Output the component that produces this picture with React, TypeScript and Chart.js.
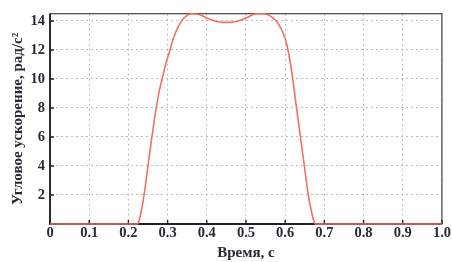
import React, { useEffect, useRef } from "react";
import { Chart, registerables } from "chart.js";

Chart.register(...registerables);

const timeValues = [0, 0.1, 0.2, 0.222, 0.228, 0.233, 0.24, 0.25, 0.26, 0.271, 0.279, 0.287, 0.295, 0.304, 0.316, 0.331, 0.342, 0.352, 0.362, 0.372, 0.385, 0.4, 0.42, 0.44, 0.46, 0.48, 0.5, 0.515, 0.528, 0.54, 0.55, 0.56, 0.57, 0.577, 0.585, 0.594, 0.602, 0.61, 0.619, 0.629, 0.639, 0.649, 0.659, 0.666, 0.672, 0.677, 0.7, 0.8, 0.9, 1.0];
const accelValues = [0, 0, 0, 0, 0.3, 0.9, 2, 4, 6, 8, 9.2, 10.1, 11.0, 11.8, 12.9, 13.8, 14.2, 14.42, 14.5, 14.48, 14.4, 14.2, 14.0, 13.9, 13.9, 14.0, 14.2, 14.4, 14.5, 14.5, 14.48, 14.38, 14.18, 14.0, 13.7, 13.2, 12.6, 11.6, 10.1, 8, 6, 4, 2, 1.0, 0.3, 0, 0, 0, 0, 0];
const yTickValues = [0, 2, 4, 6, 8, 10, 12, 14];
const xTitle = "Время, с";
const yTitle = "Угловое ускорение, рад/с²";

const frame = {
  id: "frame",
  beforeDatasetsDraw(chart: any) {
    const { ctx, chartArea } = chart;
    const { left, right, top, bottom } = chartArea;
    ctx.save();
    ctx.strokeStyle = "#444";
    ctx.lineWidth = 1.2;
    ctx.strokeRect(left, top, right - left, bottom - top);
    ctx.strokeStyle = "#222";
    ctx.lineWidth = 1.8;
    ctx.beginPath();
    ctx.moveTo(left, top);
    ctx.lineTo(left, bottom);
    ctx.lineTo(right, bottom);
    ctx.stroke();
    ctx.lineWidth = 1.4;
    const xs = chart.scales.x;
    const ys = chart.scales.y;
    ctx.beginPath();
    xs.ticks.forEach((t: any) => {
      const px = xs.getPixelForValue(t.value);
      ctx.moveTo(px, bottom);
      ctx.lineTo(px, bottom - 4);
    });
    ys.ticks.forEach((t: any) => {
      const py = ys.getPixelForValue(t.value);
      ctx.moveTo(left, py);
      ctx.lineTo(left + 4, py);
    });
    ctx.stroke();
    ctx.restore();
  },
};

export default function App() {
  const ref = useRef<HTMLCanvasElement>(null);
  useEffect(() => {
    const font = { family: "Liberation Serif", weight: "bold" as const, size: 14.5 };
    const titleFont = { family: "Liberation Serif", weight: "bold" as const, size: 15 };
    const chart = new Chart(ref.current!, {
      type: "line",
      data: {
        datasets: [
          {
            data: timeValues.map((t, i) => ({ x: t, y: accelValues[i] })),
            borderColor: "#ee7262",
            borderWidth: 1.6,
            pointRadius: 0,
            cubicInterpolationMode: "monotone",
            clip: 4,
          } as any,
        ],
      },
      options: {
        animation: false,
        responsive: false,
        layout: { padding: { left: 0, right: 7, top: 12, bottom: 0 } },
        plugins: { legend: { display: false }, tooltip: { enabled: false } },
        scales: {
          x: {
            type: "linear",
            min: 0,
            max: 1,
            afterFit: (s: any) => {
              s.height = 38;
            },
            ticks: {
              stepSize: 0.1,
              color: "#2a2a35",
              font,
              maxRotation: 0,
              padding: 1,
              callback: (v: any) => (v === 0 ? "0" : Number(v).toFixed(1)),
            },
            grid: { color: "#bbb", lineWidth: 1, tickLength: 0 },
            border: { display: true, color: "#bbb", width: 1, dash: [2, 3] } as any,
            title: {
              display: true,
              text: xTitle,
              color: "#2a2a35",
              font: titleFont,
              padding: { top: 0, bottom: 0 },
            },
          },
          y: {
            min: 0,
            max: 14.5,
            afterFit: (s: any) => {
              s.width = 50;
            },
            afterBuildTicks: (s: any) => {
              s.ticks = yTickValues.map((v) => ({ value: v }));
            },
            ticks: {
              color: "#2a2a35",
              font,
              padding: 5,
              callback: (v: any) => (v === 0 ? "" : String(v)),
            },
            grid: { color: "#bbb", lineWidth: 1, tickLength: 0 },
            border: { display: true, color: "#bbb", width: 1, dash: [2, 3] } as any,
            title: {
              display: true,
              text: yTitle,
              color: "#2a2a35",
              font: titleFont,
              padding: { top: 9, bottom: 0 },
            },
          },
        },
      },
      plugins: [frame],
    });
    return () => chart.destroy();
  }, []);
  return (
    <div style={{ position: "fixed", left: 0, top: 0, width: 452, height: 262, background: "#fff" }}>
      <canvas ref={ref} width={452} height={262} />
    </div>
  );
}
